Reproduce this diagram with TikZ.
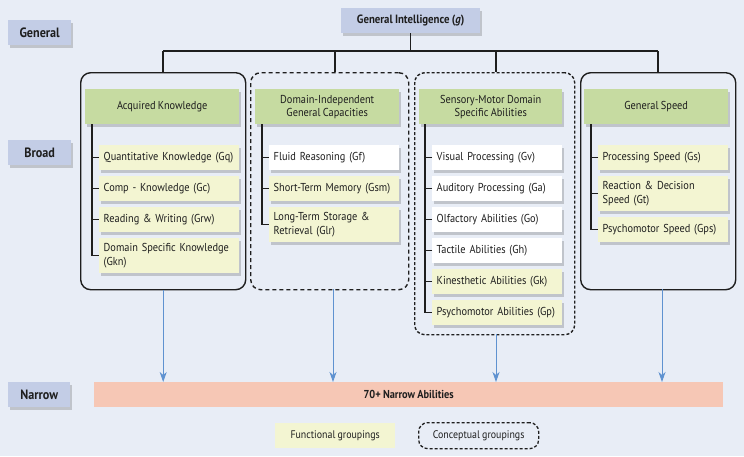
\documentclass[tikz,border=0pt]{standalone}
\usepackage{fontspec}
\setmainfont[FakeStretch=0.9,WordSpace=0.85]{PT Sans}
\usetikzlibrary{shadows,arrows.meta}
\hyphenpenalty=10000
\definecolor{bgcol}{HTML}{E8EDF6}
\definecolor{levelcol}{HTML}{C3CDE6}
\definecolor{headcol}{HTML}{C6DBA1}
\definecolor{funccol}{HTML}{F3F5D2}
\definecolor{narrowcol}{HTML}{F6C7B5}
\definecolor{arrowcol}{HTML}{5F92D0}
\definecolor{inkcol}{HTML}{1E1E1E}
\tikzset{
  shade box/.style={drop shadow={shadow xshift=2pt,shadow yshift=-2.5pt,opacity=0.25,fill=black!70}},
  levelbox/.style={shade box,fill=levelcol,anchor=north west,minimum width=63pt,minimum height=25pt,
    inner sep=0pt,font=\fontsize{13.5}{15}\selectfont\bfseries,text=inkcol},
  headbox/.style={shade box,fill=headcol,anchor=north west,minimum width=154pt,minimum height=35pt,
    inner sep=0pt,align=center,font=\fontsize{11.5}{13}\selectfont,text=inkcol},
  itembox/.style={shade box,anchor=north west,text width=131pt,minimum height=25pt,inner xsep=4.5pt,
    inner ysep=0pt,align=left,font=\fontsize{11.5}{13.5}\selectfont,text=inkcol},
  func/.style={itembox,fill=funccol},
  plain/.style={itembox,fill=white},
  groupsolid/.style={draw=inkcol,line width=1.4pt,rounded corners=10pt,anchor=north west,inner sep=0pt},
  groupdash/.style={groupsolid,dash pattern=on 4pt off 3pt},
  groupdot/.style={groupsolid,dash pattern=on 3pt off 2pt},
  tree/.style={draw=inkcol,line width=1.1pt},
  arr/.style={draw=arrowcol,line width=0.9pt,-{Stealth[length=10pt,width=7pt,inset=3pt]}},
}
\begin{document}
\begin{tikzpicture}[x=1pt,y=-1pt]
  \useasboundingbox[fill=bgcol] (0,0) rectangle (744,456);

  % level labels
  \node[levelbox] (lvG) at (8,20) {General};
  \node[levelbox] (lvB) at (8,140) {Broad};
  \node[levelbox,minimum width=62pt] (lvN) at (8,382) {Narrow};

  % apex
  \node[levelbox,minimum width=139pt,font=\fontsize{12}{13}\selectfont\bfseries] (g) at (341,8)
    {General Intelligence (\textit{g})};

  % group frames
  \node[groupsolid,minimum width=165pt,minimum height=217pt] (box1) at (80,72) {};
  \node[groupdash,minimum width=158pt,minimum height=217pt] (box2) at (250,72) {};
  \node[groupdot,minimum width=160pt,minimum height=262pt] (box3) at (414,72) {};
  \node[groupsolid,minimum width=155pt,minimum height=217pt] (box4) at (580,72) {};

  % connectors from g
  \coordinate (busL) at (163,51);
  \coordinate (busR) at (658,51);
  \coordinate (drop2) at (335,51);
  \coordinate (drop3) at (496,51);
  \draw[tree] (g.south) -- (g.south |- busL);
  \draw[tree] (busL) -- (busR);
  \draw[tree] (busL) -- (busL |- box1.north);
  \draw[tree] (drop2) -- (drop2 |- box2.north);
  \draw[tree] (drop3) -- (drop3 |- box3.north);
  \draw[tree] (busR) -- (busR |- box4.north);

  % headers
  \node[headbox] (h1) at (85,89) {Acquired Knowledge};
  \node[headbox,minimum width=144pt] (h2) at (255,89) {Domain-Independent\\General Capacities};
  \node[headbox,minimum width=143pt] (h3) at (419,89) {Sensory-Motor Domain\\Specific Abilities};
  \node[headbox,minimum width=144pt] (h4) at (584,89) {General Speed};

  % acquired knowledge
  \node[func] (a1) at (99,145) {Quantitative Knowledge (Gq)};
  \node[func] (a2) at (99,176) {Comp - Knowledge (Gc)};
  \node[func] (a3) at (99,207) {Reading \& Writing (Grw)};
  \node[func,minimum height=35pt] (a4) at (99,238) {Domain Specific Knowledge\\(Gkn)};
  \draw[tree] ([xshift=7pt]h1.south west) |- (a4.west);
  \foreach \n in {a1,a2,a3} \draw[tree] (\n.west) -- ++(-7,0);

  % domain-independent capacities
  \node[plain,text width=121pt] (b1) at (269,145) {Fluid Reasoning (Gf)};
  \node[func,text width=121pt] (b2) at (269,176) {Short-Term Memory (Gsm)};
  \node[func,text width=121pt,minimum height=35pt] (b3) at (269,207) {Long-Term Storage \&\\Retrieval (Glr)};
  \draw[tree] ([xshift=7pt]h2.south west) |- (b3.west);
  \foreach \n in {b1,b2} \draw[tree] (\n.west) -- ++(-7,0);

  % sensory-motor abilities
  \node[plain,text width=121pt] (c1) at (432,145) {Visual Processing (Gv)};
  \node[plain,text width=121pt] (c2) at (432,176) {Auditory Processing (Ga)};
  \node[plain,text width=121pt] (c3) at (432,207) {Olfactory Abilities (Go)};
  \node[plain,text width=121pt] (c4) at (432,238) {Tactile Abilities (Gh)};
  \node[func,text width=121pt] (c5) at (432,269) {Kinesthetic Abilities (Gk)};
  \node[func,text width=121pt] (c6) at (432,300) {Psychomotor Abilities (Gp)};
  \draw[tree] ([xshift=6pt]h3.south west) |- (c6.west);
  \foreach \n in {c1,c2,c3,c4,c5} \draw[tree] (\n.west) -- ++(-7,0);

  % general speed
  \node[func,text width=121pt] (d1) at (598,145) {Processing Speed (Gs)};
  \node[func,text width=121pt,minimum height=35pt] (d2) at (598,176) {Reaction \& Decision\\Speed (Gt)};
  \node[func,text width=121pt] (d3) at (598,217) {Psychomotor Speed (Gps)};
  \draw[tree] ([xshift=7pt]h4.south west) |- (d3.west);
  \foreach \n in {d1,d2} \draw[tree] (\n.west) -- ++(-7,0);

  % narrow level
  \node[fill=narrowcol,anchor=north west,minimum width=629pt,minimum height=25pt,inner sep=0pt,
    font=\fontsize{11.5}{12}\selectfont\bfseries,text=inkcol] (bar) at (94,382) {70+ Narrow Abilities};
  \coordinate (t2) at (333,289);
  \coordinate (t3) at (496,334);
  \coordinate (t4) at (662,289);
  \draw[arr] (box1.south) -- (box1.south |- bar.north);
  \draw[arr] (t2) -- (t2 |- bar.north);
  \draw[arr] (t3) -- (t3 |- bar.north);
  \draw[arr] (t4) -- (t4 |- bar.north);

  % legend
  \node[fill=funccol,anchor=north west,minimum width=120pt,minimum height=25pt,inner sep=0pt,
    font=\fontsize{11}{12}\selectfont,text=inkcol] (legF) at (275,423) {Functional groupings};
  \node[draw=inkcol,line width=1.3pt,dash pattern=on 3pt off 2pt,rounded corners=9pt,anchor=north west,
    minimum width=120pt,minimum height=26pt,inner sep=0pt,font=\fontsize{11}{12}\selectfont,text=inkcol]
    (legC) at (418,422) {Conceptual groupings};
\end{tikzpicture}
\end{document}
